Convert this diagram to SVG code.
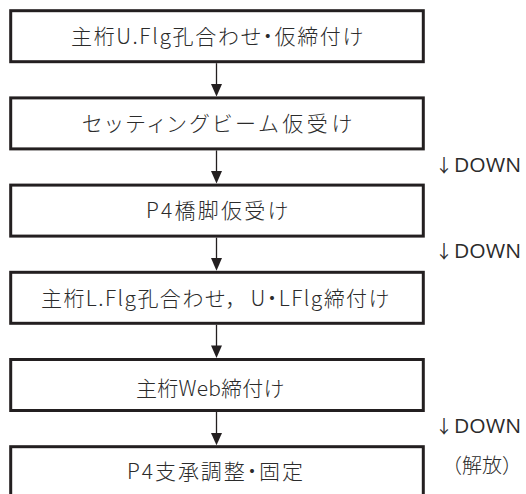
<svg xmlns="http://www.w3.org/2000/svg" width="526" height="494" viewBox="0 0 526 494">
<defs>
<style>
.box{fill:#fff;stroke:#231f20;stroke-width:3}
.lbl{font-family:"Noto Sans CJK JP","Noto Sans",sans-serif;font-size:21px;font-weight:300;font-feature-settings:"palt" 1;fill:#2b2b2b;text-anchor:middle}
.note{font-family:"Noto Sans CJK JP","Noto Sans",sans-serif;font-size:20px;font-weight:300;fill:#2b2b2b;text-anchor:middle}
.side{font-family:"Open Sans","Noto Sans CJK JP",sans-serif;font-size:20px;fill:#2b2b2b}
.arr{font-family:"Noto Sans CJK JP","DejaVu Sans",sans-serif;font-size:18px;font-weight:400;fill:#2b2b2b}
.conn{stroke:#231f20;stroke-width:1.3;fill:none}
.head{fill:#231f20}
</style>
</defs>
<rect width="526" height="494" fill="#fff"/>
<g id="connectors">
<line class="conn" x1="216.5" y1="63.2" x2="216.5" y2="85"/><polygon class="head" points="211,84 222,84 216.5,96.4"/>
<line class="conn" x1="216.5" y1="150.4" x2="216.5" y2="172"/><polygon class="head" points="211,171 222,171 216.5,183.6"/>
<line class="conn" x1="216.5" y1="237.6" x2="216.5" y2="259"/><polygon class="head" points="211,258 222,258 216.5,270.8"/>
<line class="conn" x1="216.5" y1="324.8" x2="216.5" y2="346"/><polygon class="head" points="211,345.5 222,345.5 216.5,358"/>
<line class="conn" x1="216.5" y1="412" x2="216.5" y2="434"/><polygon class="head" points="211,433 222,433 216.5,445.2"/>
</g>
<g id="n1"><rect class="box" x="10.7" y="10.7" width="412.6" height="51"/><text class="lbl" x="217" y="43.8" textLength="292" lengthAdjust="spacing">主桁U.Flg孔合わせ・仮締付け</text></g>
<g id="n2"><rect class="box" x="10.7" y="97.9" width="412.6" height="51"/><text class="lbl" x="217" y="131" textLength="270" lengthAdjust="spacing">セッティングビーム仮受け</text></g>
<g id="n3"><rect class="box" x="10.7" y="185.1" width="412.6" height="51"/><text class="lbl" x="217" y="218.2" textLength="142" lengthAdjust="spacing">P4橋脚仮受け</text></g>
<g id="n4"><rect class="box" x="10.7" y="272.3" width="412.6" height="51"/><text class="lbl" x="215" y="305.6" textLength="348" lengthAdjust="spacing">主桁L.Flg孔合わせ，&#160; U・LFlg締付け</text></g>
<g id="n5"><rect class="box" x="10.7" y="359.5" width="412.6" height="51"/><text class="lbl" x="210" y="396" textLength="148" lengthAdjust="spacing">主桁Web締付け</text></g>
<g id="n6"><rect class="box" x="10.7" y="446.7" width="412.6" height="51"/><text class="lbl" x="215" y="479" textLength="176" lengthAdjust="spacing">P4支承調整・固定</text></g>
<g id="side-labels">
<text class="arr" x="435" y="172">↓</text><text class="side" x="454" y="172" textLength="67" lengthAdjust="spacingAndGlyphs">DOWN</text>
<text class="arr" x="435" y="258">↓</text><text class="side" x="454" y="258" textLength="67" lengthAdjust="spacingAndGlyphs">DOWN</text>
<text class="arr" x="435" y="433">↓</text><text class="side" x="454" y="433" textLength="67" lengthAdjust="spacingAndGlyphs">DOWN</text>
<text class="note" x="482" y="473">（解放）</text>
</g>
</svg>
